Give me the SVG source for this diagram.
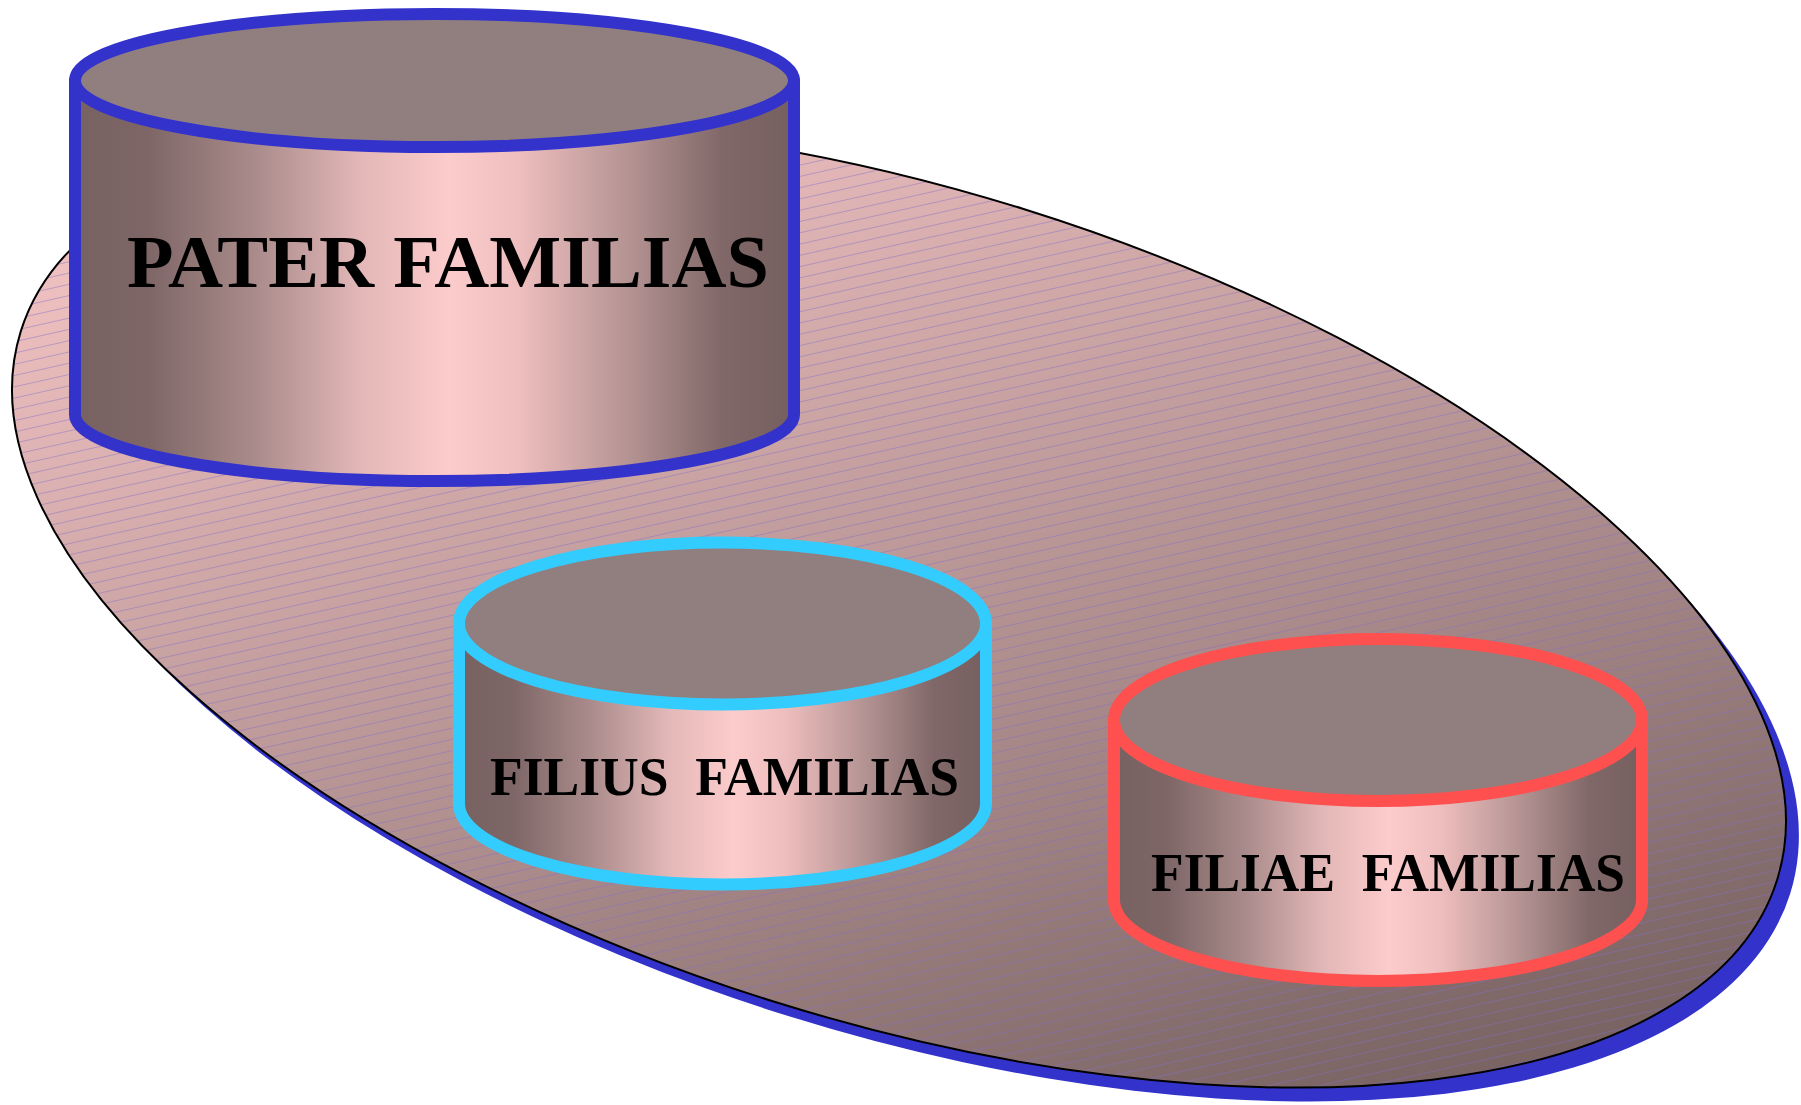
<svg xmlns="http://www.w3.org/2000/svg" width="1801" height="1105" viewBox="0 0 1801 1105">
<style>
.side{stroke-width:12;stroke-linejoin:round;fill:url(#sideGrad)}
.top{stroke-width:12;fill:#917f7f}
.lbl{font-family:"Liberation Serif","Times New Roman",serif;font-weight:bold;fill:#000;white-space:pre}
</style>
<defs>
<linearGradient id="sideGrad" x1="0" y1="0" x2="1" y2="0">
<stop offset="0" stop-color="#786161"/>
<stop offset="0.1" stop-color="#7e6666"/>
<stop offset="0.25" stop-color="#aa8b8b"/>
<stop offset="0.4" stop-color="#e4b8b8"/>
<stop offset="0.52" stop-color="#fccbcb"/>
<stop offset="0.62" stop-color="#eebdbd"/>
<stop offset="0.76" stop-color="#b89696"/>
<stop offset="0.9" stop-color="#816868"/>
<stop offset="1" stop-color="#765f5f"/>
</linearGradient>
<linearGradient id="baseGrad" gradientUnits="userSpaceOnUse" x1="172" y1="246" x2="976" y2="1392">
<stop offset="0" stop-color="#fccaca"/>
<stop offset="0.5" stop-color="#b99696"/>
<stop offset="1" stop-color="#735e5e"/>
</linearGradient>
<pattern id="hatch" patternUnits="userSpaceOnUse" width="200" height="11" patternTransform="rotate(-30)">
<line x1="0" y1="5.5" x2="200" y2="5.5" stroke="#8070c8" stroke-opacity="0.45" stroke-width="1"/>
</pattern>
</defs>
<g id="base">
<ellipse cx="912" cy="619.4" rx="920" ry="415.5" transform="rotate(17.33 912 619.4)" fill="#3333cc"/>
<ellipse cx="899" cy="605.4" rx="920" ry="415.5" transform="rotate(17.33 899 605.4)" fill="url(#baseGrad)"/>
<ellipse cx="899" cy="605.4" rx="920" ry="415.5" transform="rotate(17.33 899 605.4)" fill="url(#hatch)" stroke="#000" stroke-width="2"/>
</g>
<g id="connectors"></g>
<g id="pater">
<path class="side" stroke="#3333cc" d="M75,80.5 L75,414.5 A359.5,66.5 0 0 0 794,414.5 L794,80.5 Z"/>
<ellipse class="top" stroke="#3333cc" cx="434.5" cy="80.5" rx="359.5" ry="66.5"/>
<text class="lbl" x="127" y="287" font-size="75" textLength="642" lengthAdjust="spacingAndGlyphs">PATER FAMILIAS</text>
</g>
<g id="filius">
<path class="side" stroke="#33ccff" d="M459,623.5 L459,803.5 A263.5,81 0 0 0 986,803.5 L986,623.5 Z"/>
<ellipse class="top" stroke="#33ccff" cx="722.5" cy="623.5" rx="263.5" ry="81"/>
<text class="lbl" x="490" y="795" font-size="54" textLength="469" lengthAdjust="spacingAndGlyphs">FILIUS  FAMILIAS</text>
</g>
<g id="filiae">
<path class="side" stroke="#ff5050" d="M1114,720 L1114,900 A264,81 0 0 0 1642,900 L1642,720 Z"/>
<ellipse class="top" stroke="#ff5050" cx="1378" cy="720" rx="264" ry="81"/>
<text class="lbl" x="1151" y="891" font-size="54" textLength="474" lengthAdjust="spacingAndGlyphs">FILIAE  FAMILIAS</text>
</g>
</svg>
